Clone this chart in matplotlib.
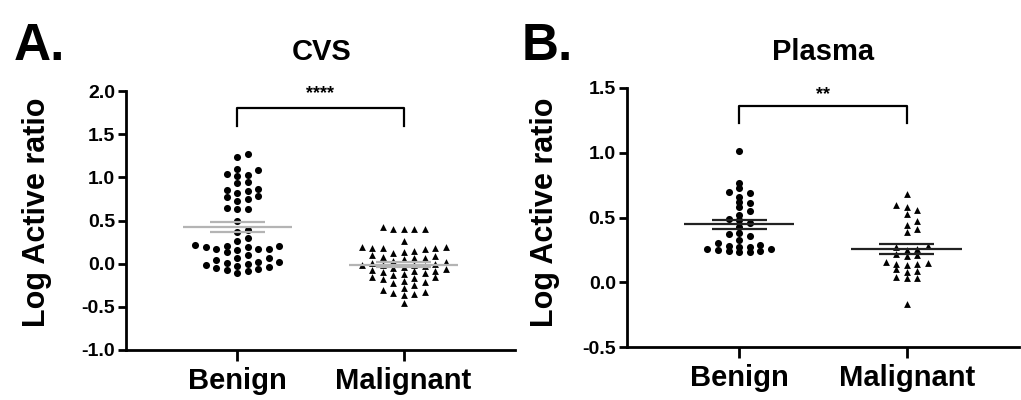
import matplotlib
matplotlib.use("Agg")
import matplotlib.pyplot as plt
import numpy as np

plt.rcParams['font.family'] = ['Liberation Sans', 'DejaVu Sans']
plt.rcParams['font.weight'] = 'bold'

groups = ['Benign', 'Malignant']

# CVS - log active ratio
cvs_benign = [1.27, 1.24, 1.10, 1.08, 1.04, 1.03, 1.02, 0.95, 0.93, 0.86, 0.85, 0.84,
              0.82, 0.78, 0.77, 0.75, 0.73, 0.64, 0.63, 0.63, 0.49, 0.39, 0.37, 0.30,
              0.26, 0.22, 0.21, 0.20, 0.19, 0.19, 0.17, 0.17, 0.17, 0.16, 0.13, 0.10,
              0.07, 0.06, 0.04, 0.02, 0.02, 0.01, 0.00, -0.02, -0.03, -0.04, -0.05,
              -0.06, -0.07, -0.08, -0.11]
cvs_malignant = [0.43, 0.40, 0.40, 0.40, 0.40, 0.26, 0.19, 0.19, 0.18, 0.18, 0.18, 0.17,
                 0.15, 0.13, 0.12, 0.10, 0.09, 0.08, 0.07, 0.06, 0.05, 0.03, 0.02, 0.01,
                 0.00, -0.01, -0.01, -0.02, -0.03, -0.04, -0.05, -0.06, -0.07, -0.08,
                 -0.09, -0.10, -0.11, -0.12, -0.13, -0.15, -0.16, -0.17, -0.18, -0.20,
                 -0.21, -0.22, -0.25, -0.28, -0.30, -0.33, -0.34, -0.35, -0.36, -0.46]

# Plasma - log active ratio
plasma_benign = [1.01, 0.77, 0.73, 0.70, 0.69, 0.66, 0.62, 0.61, 0.58, 0.55, 0.52, 0.49,
                 0.48, 0.46, 0.43, 0.38, 0.37, 0.36, 0.33, 0.30, 0.29, 0.28, 0.27, 0.27,
                 0.26, 0.26, 0.25, 0.24, 0.24, 0.23, 0.23]
plasma_malignant = [0.68, 0.60, 0.58, 0.56, 0.53, 0.47, 0.44, 0.41, 0.39, 0.28, 0.27,
                    0.26, 0.25, 0.22, 0.21, 0.20, 0.16, 0.15, 0.14, 0.14, 0.13, 0.10,
                    0.09, 0.08, 0.04, 0.03, 0.03, -0.17]


def swarm(values, center, dx, dy):
    # simple column beeswarm: center, right, left, ...
    vals = sorted(values)
    order = [0, 1, -1, 2, -2, 3, -3, 4, -4, 5, -5]
    placed = {}
    xs = []
    for v in vals:
        for k in order:
            col = placed.setdefault(k, [])
            if all(abs(v - p) >= dy for p in col):
                col.append(v)
                xs.append(center + k * dx)
                break
    return np.array(xs), np.array(vals)


def panel(ax, data, ylim, yticks, dy, line_color, stars, br_y, br_drop, star_y):
    markers = ['o', '^']
    sizes = [26, 24]
    for i, vals in enumerate(data):
        xs, ys = swarm(vals, i, 0.063, dy)
        ax.scatter(xs, ys, marker=markers[i], s=sizes[i], color='black',
                   linewidths=0, zorder=3, clip_on=False)
        m = np.mean(vals)
        sem = np.std(vals, ddof=1) / np.sqrt(len(vals))
        ax.hlines(m, i - 0.33, i + 0.33, color=line_color, lw=1.6, zorder=4)
        ax.hlines([m - sem, m + sem], i - 0.165, i + 0.165, color=line_color, lw=1.6, zorder=4)

    ax.set_xlim(-0.67, 1.67)
    ax.set_ylim(*ylim)
    ax.set_yticks(yticks)
    ax.set_yticklabels([f'{t:.1f}' for t in yticks], fontsize=14, fontweight='bold')
    ax.set_xticks([0, 1])
    ax.set_xticklabels(groups, fontsize=21, fontweight='bold')
    ax.tick_params(axis='y', direction='out', length=6, width=2, pad=2)
    ax.tick_params(axis='x', direction='out', length=8, width=2, pad=4)
    for s in ['top', 'right']:
        ax.spines[s].set_visible(False)
    for s in ['left', 'bottom']:
        ax.spines[s].set_linewidth(2)
    ax.set_ylabel('Log Active ratio', fontsize=22, fontweight='bold')

    ax.plot([0, 0, 1, 1], [br_y - br_drop, br_y, br_y, br_y - br_drop],
            color='black', lw=1.6, clip_on=False)
    ax.text(0.5, star_y, stars, ha='center', va='center', fontsize=13,
            fontweight='bold')


fig = plt.figure(figsize=(10.21, 4), dpi=100)

ax1 = fig.add_axes([0.1234, 0.125, 0.381, 0.6475])
panel(ax1, [cvs_benign, cvs_malignant], (-1.0, 2.0), [-1.0, -0.5, 0.0, 0.5, 1.0, 1.5, 2.0],
      0.075, '#b4b4b4', '****', 1.80, 0.2, 1.97)
ax1.yaxis.set_label_coords(-0.19, 0.53)

ax2 = fig.add_axes([0.614, 0.1325, 0.384, 0.6475])
panel(ax2, [plasma_benign, plasma_malignant], (-0.5, 1.5), [-0.5, 0.0, 0.5, 1.0, 1.5],
      0.04, '#222222', '**', 1.36, 0.13, 1.45)
ax2.yaxis.set_label_coords(-0.17, 0.52)

fig.text(322 / 1021, 1 - 52 / 400, 'CVS', ha='center', va='center', fontsize=21, fontweight='bold')
fig.text(823 / 1021, 1 - 52 / 400, 'Plasma', ha='center', va='center', fontsize=21, fontweight='bold')
fig.text(0.013, 1 - 46 / 400, 'A.', ha='left', va='center', fontsize=37, fontweight='bold')
fig.text(0.511, 1 - 46 / 400, 'B.', ha='left', va='center', fontsize=37, fontweight='bold')

fig.savefig('out.png', dpi=100)
